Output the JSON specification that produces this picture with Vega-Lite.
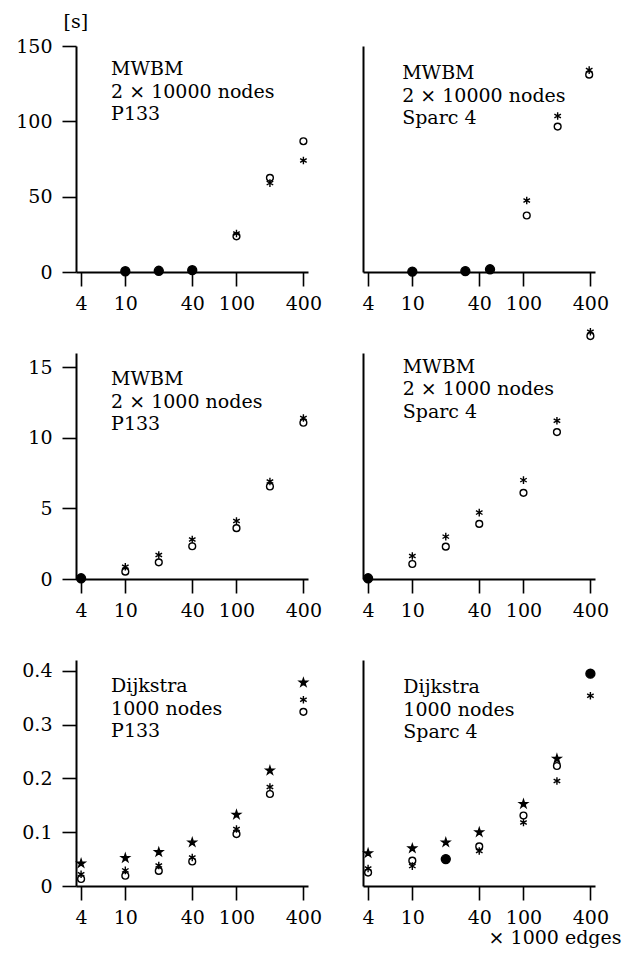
{
  "$schema": "https://vega.github.io/schema/vega-lite/v6.json",
  "padding": {"left": 15, "top": 12, "right": 5, "bottom": 5},
  "background": "white",
  "datasets": {
    "pts": [
      {"p": "A", "m": "o", "edges": 100, "sec": 23.7},
      {"p": "A", "m": "o", "edges": 200, "sec": 62.5},
      {"p": "A", "m": "o", "edges": 400, "sec": 86.8},
      {"p": "A", "m": "ast", "edges": 100, "sec": 25.5},
      {"p": "A", "m": "ast", "edges": 200, "sec": 59},
      {"p": "A", "m": "ast", "edges": 400, "sec": 74},
      {"p": "A", "m": "dot", "edges": 10, "sec": 0.5},
      {"p": "A", "m": "dot", "edges": 20, "sec": 0.8},
      {"p": "A", "m": "dot", "edges": 40, "sec": 1.2},
      {"p": "B", "m": "o", "edges": 107, "sec": 37.5},
      {"p": "B", "m": "o", "edges": 203, "sec": 96.5},
      {"p": "B", "m": "o", "edges": 390, "sec": 131},
      {"p": "B", "m": "ast", "edges": 107, "sec": 47.4},
      {"p": "B", "m": "ast", "edges": 203, "sec": 103.5},
      {"p": "B", "m": "ast", "edges": 390, "sec": 134},
      {"p": "B", "m": "dot", "edges": 10, "sec": 0.3},
      {"p": "B", "m": "dot", "edges": 30, "sec": 0.6},
      {"p": "B", "m": "dot", "edges": 50, "sec": 1.8},
      {"p": "C", "m": "o", "edges": 10, "sec": 0.52},
      {"p": "C", "m": "o", "edges": 20, "sec": 1.18},
      {"p": "C", "m": "o", "edges": 40, "sec": 2.32},
      {"p": "C", "m": "o", "edges": 100, "sec": 3.6},
      {"p": "C", "m": "o", "edges": 200, "sec": 6.55},
      {"p": "C", "m": "o", "edges": 400, "sec": 11.06},
      {"p": "C", "m": "ast", "edges": 10, "sec": 0.87},
      {"p": "C", "m": "ast", "edges": 20, "sec": 1.7},
      {"p": "C", "m": "ast", "edges": 40, "sec": 2.8},
      {"p": "C", "m": "ast", "edges": 100, "sec": 4.1},
      {"p": "C", "m": "ast", "edges": 200, "sec": 6.9},
      {"p": "C", "m": "ast", "edges": 400, "sec": 11.4},
      {"p": "C", "m": "dot", "edges": 4, "sec": 0.05},
      {"p": "D", "m": "o", "edges": 10, "sec": 1.06},
      {"p": "D", "m": "o", "edges": 20, "sec": 2.29},
      {"p": "D", "m": "o", "edges": 40, "sec": 3.9},
      {"p": "D", "m": "o", "edges": 100, "sec": 6.1},
      {"p": "D", "m": "o", "edges": 200, "sec": 10.4},
      {"p": "D", "m": "o", "edges": 400, "sec": 17.2},
      {"p": "D", "m": "ast", "edges": 10, "sec": 1.63},
      {"p": "D", "m": "ast", "edges": 20, "sec": 3.0},
      {"p": "D", "m": "ast", "edges": 40, "sec": 4.7},
      {"p": "D", "m": "ast", "edges": 100, "sec": 7.0},
      {"p": "D", "m": "ast", "edges": 200, "sec": 11.2},
      {"p": "D", "m": "ast", "edges": 400, "sec": 17.5},
      {"p": "D", "m": "dot", "edges": 4, "sec": 0.05},
      {"p": "E", "m": "o", "edges": 4, "sec": 0.013},
      {"p": "E", "m": "o", "edges": 10, "sec": 0.019},
      {"p": "E", "m": "o", "edges": 20, "sec": 0.028},
      {"p": "E", "m": "o", "edges": 40, "sec": 0.0455},
      {"p": "E", "m": "o", "edges": 100, "sec": 0.0965},
      {"p": "E", "m": "o", "edges": 200, "sec": 0.171},
      {"p": "E", "m": "o", "edges": 400, "sec": 0.3236},
      {"p": "E", "m": "ast", "edges": 4, "sec": 0.022},
      {"p": "E", "m": "ast", "edges": 10, "sec": 0.029},
      {"p": "E", "m": "ast", "edges": 20, "sec": 0.038},
      {"p": "E", "m": "ast", "edges": 40, "sec": 0.053},
      {"p": "E", "m": "ast", "edges": 100, "sec": 0.106},
      {"p": "E", "m": "ast", "edges": 200, "sec": 0.184},
      {"p": "E", "m": "ast", "edges": 400, "sec": 0.346},
      {"p": "E", "m": "star", "edges": 4, "sec": 0.042},
      {"p": "E", "m": "star", "edges": 10, "sec": 0.052},
      {"p": "E", "m": "star", "edges": 20, "sec": 0.063},
      {"p": "E", "m": "star", "edges": 40, "sec": 0.081},
      {"p": "E", "m": "star", "edges": 100, "sec": 0.1325},
      {"p": "E", "m": "star", "edges": 200, "sec": 0.2146},
      {"p": "E", "m": "star", "edges": 400, "sec": 0.378},
      {"p": "F", "m": "o", "edges": 4, "sec": 0.025},
      {"p": "F", "m": "o", "edges": 10, "sec": 0.047},
      {"p": "F", "m": "o", "edges": 40, "sec": 0.0735},
      {"p": "F", "m": "o", "edges": 100, "sec": 0.131},
      {"p": "F", "m": "o", "edges": 200, "sec": 0.223},
      {"p": "F", "m": "ast", "edges": 4, "sec": 0.0325},
      {"p": "F", "m": "ast", "edges": 10, "sec": 0.037},
      {"p": "F", "m": "ast", "edges": 40, "sec": 0.065},
      {"p": "F", "m": "ast", "edges": 100, "sec": 0.118},
      {"p": "F", "m": "ast", "edges": 200, "sec": 0.195},
      {"p": "F", "m": "ast", "edges": 400, "sec": 0.3535},
      {"p": "F", "m": "star", "edges": 4, "sec": 0.061},
      {"p": "F", "m": "star", "edges": 10, "sec": 0.07},
      {"p": "F", "m": "star", "edges": 20, "sec": 0.081},
      {"p": "F", "m": "star", "edges": 40, "sec": 0.1},
      {"p": "F", "m": "star", "edges": 100, "sec": 0.1525},
      {"p": "F", "m": "star", "edges": 200, "sec": 0.2365},
      {"p": "F", "m": "dot", "edges": 20, "sec": 0.05},
      {"p": "F", "m": "dot", "edges": 400, "sec": 0.3946}
    ],
    "lbl": [
      {"p": "A", "edges": 7.45, "sec": 130.5, "t": "MWBM\n2 × 10000 nodes\nP133"},
      {"p": "B", "edges": 8.1, "sec": 128, "t": "MWBM\n2 × 10000 nodes\nSparc 4"},
      {"p": "C", "edges": 7.45, "sec": 13.7, "t": "MWBM\n2 × 1000 nodes\nP133"},
      {"p": "D", "edges": 8.2, "sec": 14.6, "t": "MWBM\n2 × 1000 nodes\nSparc 4"},
      {"p": "E", "edges": 7.45, "sec": 0.36, "t": "Dijkstra\n1000 nodes\nP133"},
      {"p": "F", "edges": 8.3, "sec": 0.358, "t": "Dijkstra\n1000 nodes\nSparc 4"}
    ]
  },
  "columns": 2,
  "spacing": {"row": 81, "column": 55},
  "bounds": "flush",
  "concat": [
    {
      "width": 232, "height": 226,
      "layer": [
        {
          "data": {"name": "pts"}, "transform": [{"filter": "datum.p == 'A'"}],
          "mark": {"type": "point", "stroke": "black", "strokeWidth": 1.4, "opacity": 1},
          "encoding": {
            "x": {"field": "edges", "type": "quantitative", "scale": {"type": "log", "domain": [3.6, 440], "nice": false}, "axis": {"values": [4, 10, 40, 100, 400], "labelExpr": "'' + datum.value", "title": null}},
            "y": {"field": "sec", "type": "quantitative", "scale": {"domain": [0, 150], "nice": false}, "axis": {"values": [0, 50, 100, 150], "labelExpr": "'' + datum.value", "labelPadding": 10, "title": "[s]", "titleAngle": 0, "titleX": -13, "titleY": -19, "titleAlign": "left", "titleBaseline": "alphabetic"}},
            "shape": {"field": "m", "type": "nominal", "scale": {"domain": ["o", "ast", "star", "dot"], "range": ["circle", "M0,-1L0,1M-0.866,-0.5L0.866,0.5M-0.866,0.5L0.866,-0.5", "M0,-1L0.2245,-0.309L0.951,-0.309L0.363,0.118L0.588,0.809L0,0.382L-0.588,0.809L-0.363,0.118L-0.951,-0.309L-0.2245,-0.309Z", "circle"]}, "legend": null},
            "fill": {"field": "m", "type": "nominal", "scale": {"domain": ["o", "ast", "star", "dot"], "range": ["transparent", "transparent", "black", "black"]}, "legend": null},
            "size": {"field": "m", "type": "nominal", "scale": {"domain": ["o", "ast", "star", "dot"], "range": [46, 80, 110, 66]}, "legend": null}
          }
        },
        {
          "data": {"name": "lbl"}, "transform": [{"filter": "datum.p == 'A'"}],
          "mark": {"type": "text", "align": "left", "baseline": "alphabetic", "font": "DejaVu Serif", "fontSize": 19, "lineHeight": 22.5, "lineBreak": "\n", "color": "black"},
          "encoding": {"x": {"field": "edges", "type": "quantitative"}, "y": {"field": "sec", "type": "quantitative"}, "text": {"field": "t"}}
        }
      ]
    },
    {
      "width": 232, "height": 226,
      "layer": [
        {
          "data": {"name": "pts"}, "transform": [{"filter": "datum.p == 'B'"}],
          "mark": {"type": "point", "stroke": "black", "strokeWidth": 1.4, "opacity": 1},
          "encoding": {
            "x": {"field": "edges", "type": "quantitative", "scale": {"type": "log", "domain": [3.6, 440], "nice": false}, "axis": {"values": [4, 10, 40, 100, 400], "labelExpr": "'' + datum.value", "title": null}},
            "y": {"field": "sec", "type": "quantitative", "scale": {"domain": [0, 150], "nice": false}, "axis": {"labels": false, "ticks": false, "title": null}},
            "shape": {"field": "m", "type": "nominal", "scale": {"domain": ["o", "ast", "star", "dot"], "range": ["circle", "M0,-1L0,1M-0.866,-0.5L0.866,0.5M-0.866,0.5L0.866,-0.5", "M0,-1L0.2245,-0.309L0.951,-0.309L0.363,0.118L0.588,0.809L0,0.382L-0.588,0.809L-0.363,0.118L-0.951,-0.309L-0.2245,-0.309Z", "circle"]}, "legend": null},
            "fill": {"field": "m", "type": "nominal", "scale": {"domain": ["o", "ast", "star", "dot"], "range": ["transparent", "transparent", "black", "black"]}, "legend": null},
            "size": {"field": "m", "type": "nominal", "scale": {"domain": ["o", "ast", "star", "dot"], "range": [46, 80, 110, 66]}, "legend": null}
          }
        },
        {
          "data": {"name": "lbl"}, "transform": [{"filter": "datum.p == 'B'"}],
          "mark": {"type": "text", "align": "left", "baseline": "alphabetic", "font": "DejaVu Serif", "fontSize": 19, "lineHeight": 22.5, "lineBreak": "\n", "color": "black"},
          "encoding": {"x": {"field": "edges", "type": "quantitative"}, "y": {"field": "sec", "type": "quantitative"}, "text": {"field": "t"}}
        }
      ]
    },
    {
      "width": 232, "height": 226,
      "layer": [
        {
          "data": {"name": "pts"}, "transform": [{"filter": "datum.p == 'C'"}],
          "mark": {"type": "point", "stroke": "black", "strokeWidth": 1.4, "opacity": 1},
          "encoding": {
            "x": {"field": "edges", "type": "quantitative", "scale": {"type": "log", "domain": [3.6, 440], "nice": false}, "axis": {"values": [4, 10, 40, 100, 400], "labelExpr": "'' + datum.value", "title": null}},
            "y": {"field": "sec", "type": "quantitative", "scale": {"domain": [0, 16], "nice": false}, "axis": {"values": [0, 5, 10, 15], "labelExpr": "'' + datum.value", "labelPadding": 10, "title": null}},
            "shape": {"field": "m", "type": "nominal", "scale": {"domain": ["o", "ast", "star", "dot"], "range": ["circle", "M0,-1L0,1M-0.866,-0.5L0.866,0.5M-0.866,0.5L0.866,-0.5", "M0,-1L0.2245,-0.309L0.951,-0.309L0.363,0.118L0.588,0.809L0,0.382L-0.588,0.809L-0.363,0.118L-0.951,-0.309L-0.2245,-0.309Z", "circle"]}, "legend": null},
            "fill": {"field": "m", "type": "nominal", "scale": {"domain": ["o", "ast", "star", "dot"], "range": ["transparent", "transparent", "black", "black"]}, "legend": null},
            "size": {"field": "m", "type": "nominal", "scale": {"domain": ["o", "ast", "star", "dot"], "range": [46, 80, 110, 66]}, "legend": null}
          }
        },
        {
          "data": {"name": "lbl"}, "transform": [{"filter": "datum.p == 'C'"}],
          "mark": {"type": "text", "align": "left", "baseline": "alphabetic", "font": "DejaVu Serif", "fontSize": 19, "lineHeight": 22.5, "lineBreak": "\n", "color": "black"},
          "encoding": {"x": {"field": "edges", "type": "quantitative"}, "y": {"field": "sec", "type": "quantitative"}, "text": {"field": "t"}}
        }
      ]
    },
    {
      "width": 232, "height": 226,
      "layer": [
        {
          "data": {"name": "pts"}, "transform": [{"filter": "datum.p == 'D'"}],
          "mark": {"type": "point", "stroke": "black", "strokeWidth": 1.4, "opacity": 1},
          "encoding": {
            "x": {"field": "edges", "type": "quantitative", "scale": {"type": "log", "domain": [3.6, 440], "nice": false}, "axis": {"values": [4, 10, 40, 100, 400], "labelExpr": "'' + datum.value", "title": null}},
            "y": {"field": "sec", "type": "quantitative", "scale": {"domain": [0, 16], "nice": false}, "axis": {"labels": false, "ticks": false, "title": null}},
            "shape": {"field": "m", "type": "nominal", "scale": {"domain": ["o", "ast", "star", "dot"], "range": ["circle", "M0,-1L0,1M-0.866,-0.5L0.866,0.5M-0.866,0.5L0.866,-0.5", "M0,-1L0.2245,-0.309L0.951,-0.309L0.363,0.118L0.588,0.809L0,0.382L-0.588,0.809L-0.363,0.118L-0.951,-0.309L-0.2245,-0.309Z", "circle"]}, "legend": null},
            "fill": {"field": "m", "type": "nominal", "scale": {"domain": ["o", "ast", "star", "dot"], "range": ["transparent", "transparent", "black", "black"]}, "legend": null},
            "size": {"field": "m", "type": "nominal", "scale": {"domain": ["o", "ast", "star", "dot"], "range": [46, 80, 110, 66]}, "legend": null}
          }
        },
        {
          "data": {"name": "lbl"}, "transform": [{"filter": "datum.p == 'D'"}],
          "mark": {"type": "text", "align": "left", "baseline": "alphabetic", "font": "DejaVu Serif", "fontSize": 19, "lineHeight": 22.5, "lineBreak": "\n", "color": "black"},
          "encoding": {"x": {"field": "edges", "type": "quantitative"}, "y": {"field": "sec", "type": "quantitative"}, "text": {"field": "t"}}
        }
      ]
    },
    {
      "width": 232, "height": 226,
      "layer": [
        {
          "data": {"name": "pts"}, "transform": [{"filter": "datum.p == 'E'"}],
          "mark": {"type": "point", "stroke": "black", "strokeWidth": 1.4, "opacity": 1},
          "encoding": {
            "x": {"field": "edges", "type": "quantitative", "scale": {"type": "log", "domain": [3.6, 440], "nice": false}, "axis": {"values": [4, 10, 40, 100, 400], "labelExpr": "'' + datum.value", "title": null}},
            "y": {"field": "sec", "type": "quantitative", "scale": {"domain": [0, 0.42], "nice": false}, "axis": {"values": [0, 0.1, 0.2, 0.3, 0.4], "labelExpr": "'' + datum.value", "labelPadding": 10, "title": null}},
            "shape": {"field": "m", "type": "nominal", "scale": {"domain": ["o", "ast", "star", "dot"], "range": ["circle", "M0,-1L0,1M-0.866,-0.5L0.866,0.5M-0.866,0.5L0.866,-0.5", "M0,-1L0.2245,-0.309L0.951,-0.309L0.363,0.118L0.588,0.809L0,0.382L-0.588,0.809L-0.363,0.118L-0.951,-0.309L-0.2245,-0.309Z", "circle"]}, "legend": null},
            "fill": {"field": "m", "type": "nominal", "scale": {"domain": ["o", "ast", "star", "dot"], "range": ["transparent", "transparent", "black", "black"]}, "legend": null},
            "size": {"field": "m", "type": "nominal", "scale": {"domain": ["o", "ast", "star", "dot"], "range": [46, 80, 110, 66]}, "legend": null}
          }
        },
        {
          "data": {"name": "lbl"}, "transform": [{"filter": "datum.p == 'E'"}],
          "mark": {"type": "text", "align": "left", "baseline": "alphabetic", "font": "DejaVu Serif", "fontSize": 19, "lineHeight": 22.5, "lineBreak": "\n", "color": "black"},
          "encoding": {"x": {"field": "edges", "type": "quantitative"}, "y": {"field": "sec", "type": "quantitative"}, "text": {"field": "t"}}
        }
      ]
    },
    {
      "width": 232, "height": 226,
      "layer": [
        {
          "data": {"name": "pts"}, "transform": [{"filter": "datum.p == 'F'"}],
          "mark": {"type": "point", "stroke": "black", "strokeWidth": 1.4, "opacity": 1},
          "encoding": {
            "x": {"field": "edges", "type": "quantitative", "scale": {"type": "log", "domain": [3.6, 440], "nice": false}, "axis": {"values": [4, 10, 40, 100, 400], "labelExpr": "'' + datum.value", "title": "× 1000 edges", "titleX": 258, "titleY": 57, "titleAlign": "right", "titleBaseline": "alphabetic"}},
            "y": {"field": "sec", "type": "quantitative", "scale": {"domain": [0, 0.42], "nice": false}, "axis": {"labels": false, "ticks": false, "title": null}},
            "shape": {"field": "m", "type": "nominal", "scale": {"domain": ["o", "ast", "star", "dot"], "range": ["circle", "M0,-1L0,1M-0.866,-0.5L0.866,0.5M-0.866,0.5L0.866,-0.5", "M0,-1L0.2245,-0.309L0.951,-0.309L0.363,0.118L0.588,0.809L0,0.382L-0.588,0.809L-0.363,0.118L-0.951,-0.309L-0.2245,-0.309Z", "circle"]}, "legend": null},
            "fill": {"field": "m", "type": "nominal", "scale": {"domain": ["o", "ast", "star", "dot"], "range": ["transparent", "transparent", "black", "black"]}, "legend": null},
            "size": {"field": "m", "type": "nominal", "scale": {"domain": ["o", "ast", "star", "dot"], "range": [46, 80, 110, 66]}, "legend": null}
          }
        },
        {
          "data": {"name": "lbl"}, "transform": [{"filter": "datum.p == 'F'"}],
          "mark": {"type": "text", "align": "left", "baseline": "alphabetic", "font": "DejaVu Serif", "fontSize": 19, "lineHeight": 22.5, "lineBreak": "\n", "color": "black"},
          "encoding": {"x": {"field": "edges", "type": "quantitative"}, "y": {"field": "sec", "type": "quantitative"}, "text": {"field": "t"}}
        }
      ]
    }
  ],
  "config": {
    "view": {"stroke": null},
    "axis": {
      "grid": false,
      "ticks": true,
      "domainColor": "black", "domainWidth": 2,
      "tickColor": "black", "tickWidth": 1.6, "tickSize": 14, "tickOpacity": 1,
      "labelFont": "DejaVu Serif", "labelFontSize": 19, "labelColor": "black",
      "labelPadding": 8, "labelFlush": false, "labelOverlap": false, "labelBound": false,
      "titleFont": "DejaVu Serif", "titleFontSize": 19, "titleFontWeight": "normal", "titleColor": "black"
    }
  }
}
